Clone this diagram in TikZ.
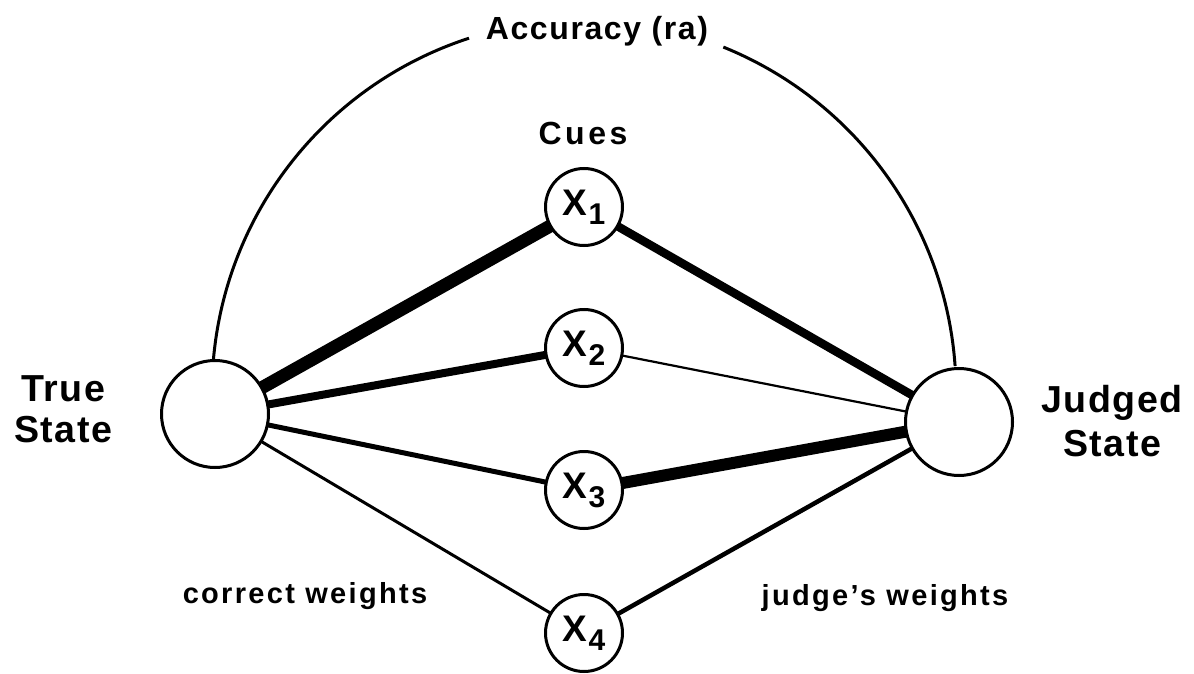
\documentclass[tikz,border=0pt]{standalone}
\usepackage{fontspec}
\setmainfont{Liberation Sans}
\pgfdeclarelayer{bg}
\pgfsetlayers{bg,main}
\newcommand\cuelabel[1]{X\kern0.5pt\raisebox{-4.5pt}{\fontsize{15}{15}\selectfont #1}}
\begin{document}
\begin{tikzpicture}[x=0.5pt,y=0.5pt,
  statenode/.style={circle,draw,line width=1.5pt,fill=white,minimum size=53.5pt,inner sep=0pt},
  cuenode/.style={circle,draw,line width=1.5pt,fill=white,minimum size=38.5pt,inner sep=0pt,
    font=\fontsize{18.5}{20}\selectfont\bfseries},
  biglabel/.style={align=center,inner sep=0pt,
    font=\fontsize{18.8}{20.5}\selectfont\bfseries\addfontfeatures{LetterSpace=4}},
  toplabel/.style={inner sep=0pt,font=\fontsize{16}{17}\selectfont\bfseries\addfontfeatures{LetterSpace=5}},
  cueslabel/.style={inner sep=0pt,font=\fontsize{16}{17}\selectfont\bfseries\addfontfeatures{LetterSpace=11}},
  wlabel/.style={inner sep=0pt,font=\fontsize{14.5}{15}\selectfont\bfseries\addfontfeatures{LetterSpace=8}},
  arcline/.style={line width=1.5pt}
]
\useasboundingbox (0,0) rectangle (1194,-674);

% main nodes
\node[statenode] (T) at (215,-414) {};
\node[statenode] (J) at (959,-422) {};
\node[cuenode] (X1) at (584,-207) {\cuelabel{1}};
\node[cuenode] (X2) at (584,-348) {\cuelabel{2}};
\node[cuenode] (X3) at (584,-490) {\cuelabel{3}};
\node[cuenode] (X4) at (584,-633) {\cuelabel{4}};

% labels
\node[biglabel] (tl) at (63,-409) {True\\State};
\node[biglabel] (jl) at (1112,-421) {Judged\\[1.5pt]State};
\node[toplabel,anchor=base] (acc) at (597,-40) {Accuracy (ra)};
\node[cueslabel,anchor=base] (cues) at (583,-145) {Cues};
\node[wlabel,anchor=base] (cw) at (305,-603) {correct weights};
\node[wlabel,anchor=base] (jw) at (885,-605) {judge’s weights};

% connectors
\begin{pgfonlayer}{bg}
\draw[line width=6.5pt] (T.center) -- (X1.center);
\draw[line width=4pt] (T.center) -- (X2.center);
\draw[line width=2.5pt] (T.center) -- (X3.center);
\draw[line width=1.5pt] (T.center) -- (X4.center);
\draw[line width=4.25pt] (X1.center) -- (J.center);
\draw[line width=1.1pt] (X2.center) -- (J.center);
\draw[line width=6pt] (X3.center) -- (J.center);
\draw[line width=2.25pt] (X4.center) -- (J.center);
\end{pgfonlayer}

% accuracy arc
\coordinate (C) at (584,-392);
\draw[arcline] (C) ++(175:372) arc[start angle=175,end angle=108,radius=372];
\draw[arcline] (C) ++(68:372) arc[start angle=68,end angle=4,radius=372];
\end{tikzpicture}
\end{document}
